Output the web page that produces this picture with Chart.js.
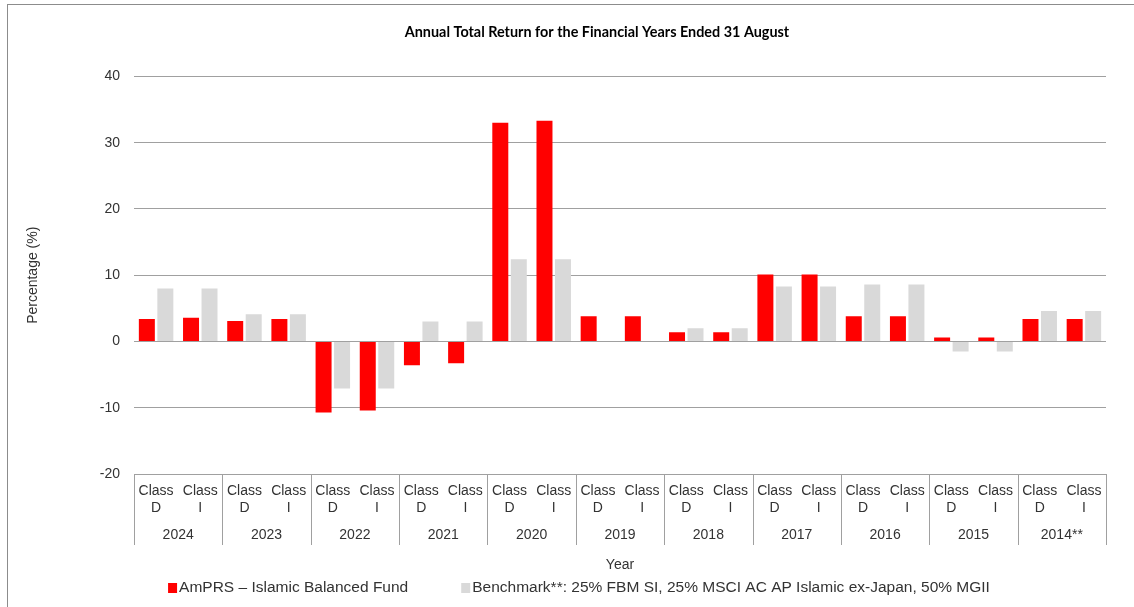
<!DOCTYPE html>
<html>
<head>
<meta charset="utf-8">
<script src="https://cdn.jsdelivr.net/npm/chart.js@4/dist/chart.umd.min.js"></script>
<style>
  html, body { margin: 0; padding: 0; background: #fff; overflow: hidden; }
  #wrap { position: absolute; left: 7px; top: 4px; width: 1165px; height: 602px; border: 1px solid #8c8c8c; }
</style>
</head>
<body>
<div id="wrap"><canvas id="mycanvas"></canvas></div>
<script>
// data
var years = ['2024', '2023', '2022', '2021', '2020', '2019', '2018', '2017', '2016', '2015', '2014**'];
var classes = ['D', 'I'];
var fundReturns = [3.4, 3.6, 3.1, 3.4, -10.7, -10.4, -3.6, -3.3, 33.0, 33.3, 3.8, 3.8, 1.4, 1.4, 10.1, 10.1, 3.8, 3.8, 0.6, 0.6, 3.4, 3.4];
var benchReturns = [8.0, 8.0, 4.1, 4.1, -7.1, -7.1, 3.0, 3.0, 12.4, 12.4, 0.0, 0.0, 2.0, 2.0, 8.3, 8.3, 8.6, 8.6, -1.5, -1.5, 4.6, 4.6];
var fundLabel = 'AmPRS \u2013 Islamic Balanced Fund';
var benchLabel = 'Benchmark**: 25% FBM SI, 25% MSCI AC AP Islamic ex-Japan, 50% MGII';

var labels = [];
for (var i in years) {
  for (var j in classes) {
    labels.push(['Class', classes[j]]);
  }
}

var font = 'Liberation Sans, Arial, sans-serif';
var textColor = '#333333';
var lineColor = '#a0a0a0';

// table lines under the x axis + legend
var extras = {
  id: 'extras',
  afterDraw: function(chart) {
    var ctx = chart.ctx;
    var area = chart.chartArea;
    var xs = chart.scales.x;
    var step = (area.right - area.left) / labels.length;
    ctx.save();
    ctx.strokeStyle = lineColor;
    ctx.lineWidth = 1;
    for (var k = 0; k <= years.length; k++) {
      var px = Math.round(xs.getPixelForTick(0) - step / 2 + k * 2 * step) + 0.5;
      ctx.beginPath();
      ctx.moveTo(px, area.bottom);
      ctx.lineTo(px, area.bottom + 71);
      ctx.stroke();
    }

    // legend
    ctx.font = '15.5px ' + font;
    ctx.textBaseline = 'middle';
    ctx.textAlign = 'left';
    var items = chart.data.datasets;
    var boxW = 9, boxH = 10, gap = 2, spacing = 53;
    var total = 0;
    for (var n = 0; n < items.length; n++) {
      total += boxW + gap + ctx.measureText(items[n].label).width;
    }
    total += spacing * (items.length - 1);
    var lx = 571 - total / 2;
    var ly = 583;
    for (var m = 0; m < items.length; m++) {
      ctx.fillStyle = items[m].backgroundColor;
      ctx.fillRect(lx, ly - boxH / 2, boxW, boxH);
      ctx.fillStyle = textColor;
      ctx.fillText(items[m].label, lx + boxW + gap, ly);
      lx += boxW + gap + ctx.measureText(items[m].label).width + spacing;
    }
    ctx.restore();
  }
};

var chartdata = {
  labels: labels,
  datasets: [
    {
      label: fundLabel,
      backgroundColor: '#ff0000',
      data: fundReturns,
      categoryPercentage: 0.837,
      barPercentage: 0.865
    },
    {
      label: benchLabel,
      backgroundColor: '#d9d9d9',
      data: benchReturns,
      categoryPercentage: 0.837,
      barPercentage: 0.865
    }
  ]
};

var ctx = document.getElementById('mycanvas');
var BarGraph = new Chart(ctx, {
  type: 'bar',
  data: chartdata,
  plugins: [extras],
  options: {
    responsive: true,
    maintainAspectRatio: false,
    animation: false,
    layout: { padding: { left: 13, right: 0, top: 0, bottom: 33 } },
    plugins: {
      legend: { display: false },
      tooltip: { enabled: false },
      title: {
        display: true,
        text: 'Annual Total Return for the Financial Years Ended 31 August',
        color: '#000',
        font: { family: 'Lato, sans-serif', size: 14.4, weight: 'bold' },
        padding: { top: 19, bottom: 35.2 }
      }
    },
    scales: {
      x: {
        weight: 0,
        grid: { display: false, drawTicks: false },
        border: { display: false },
        ticks: {
          color: textColor,
          font: { family: font, size: 14 },
          padding: 8.6,
          maxRotation: 0,
          autoSkip: false
        }
      },
      x2: {
        type: 'category',
        labels: years,
        position: 'bottom',
        weight: 1,
        offset: true,
        grid: { display: false, drawTicks: false },
        border: { display: false },
        ticks: {
          color: textColor,
          font: { family: font, size: 14 },
          padding: 1.8,
          maxRotation: 0,
          autoSkip: false
        },
        title: {
          display: true,
          text: 'Year',
          color: textColor,
          font: { family: font, size: 14 },
          padding: { top: 12, bottom: 0 }
        }
      },
      y: {
        min: -20,
        max: 40,
        grid: { color: lineColor, drawTicks: false },
        border: { display: false },
        ticks: {
          stepSize: 10,
          color: textColor,
          font: { family: font, size: 14 },
          padding: 14
        },
        title: {
          display: true,
          text: 'Percentage (%)',
          color: textColor,
          font: { family: font, size: 14 },
          padding: { top: 4, bottom: 4 }
        },
        afterFit: function(scale) { scale.width = 113; }
      },
      yR: {
        position: 'right',
        grid: { display: false, drawTicks: false },
        border: { display: false },
        ticks: { display: false },
        afterFit: function(scale) { scale.width = 67; }
      }
    }
  }
});
</script>
</body>
</html>
